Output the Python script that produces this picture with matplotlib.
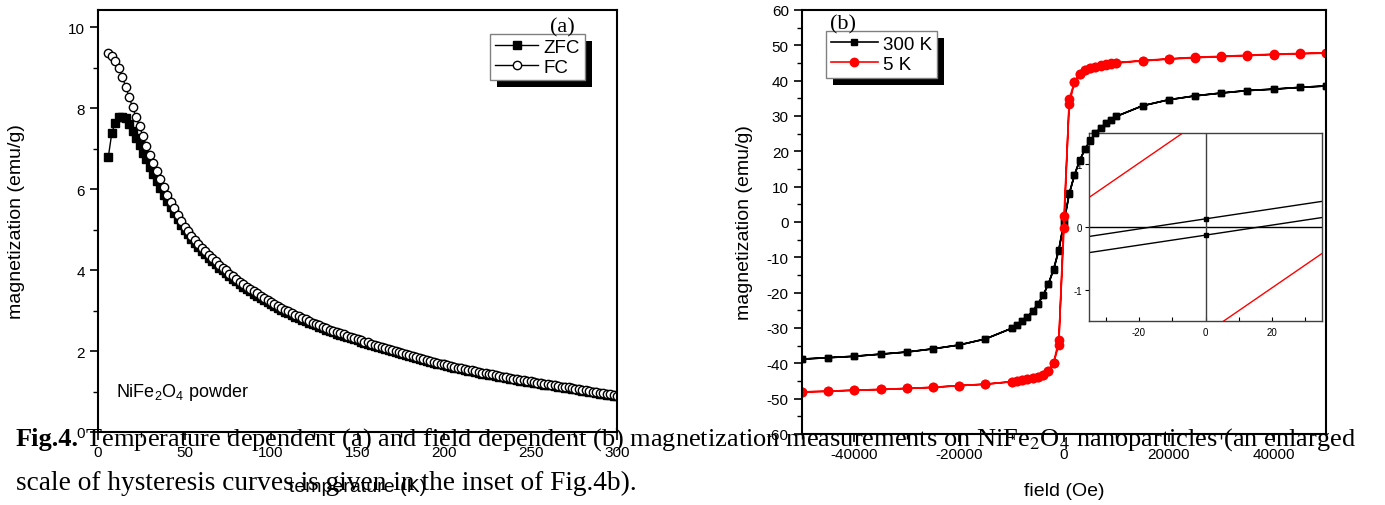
import matplotlib
matplotlib.use("Agg")
import matplotlib.pyplot as plt
from matplotlib.patches import Rectangle
from matplotlib.ticker import MultipleLocator, FixedLocator
import numpy as np

plt.rcParams['font.family'] = ['Liberation Sans', 'DejaVu Sans']
plt.rcParams['mathtext.fontset'] = 'custom'
plt.rcParams['mathtext.rm'] = 'Liberation Sans'
plt.rcParams['mathtext.bf'] = 'Liberation Sans:bold'
plt.rcParams['axes.unicode_minus'] = False

# ---- (a) ZFC / FC, temperature in K, magnetization in emu/g
temperature = [6, 8, 10, 12, 14, 16, 18, 20, 22, 24, 26, 28, 30, 32, 34, 36, 38, 40, 42, 44, 46, 48, 50,
               52, 54, 56, 58, 60, 62, 64, 66, 68, 70, 72, 74, 76, 78, 80, 82, 84, 86, 88, 90,
               92, 94, 96, 98, 100, 102, 104, 106, 108, 110, 112, 114, 116, 118, 120,
               122, 124, 126, 128, 130, 132, 134, 136, 138, 140, 142, 144, 146, 148, 150,
               152, 154, 156, 158, 160, 162, 164, 166, 168, 170, 172, 174, 176, 178, 180,
               182, 184, 186, 188, 190, 192, 194, 196, 198, 200, 202, 204, 206, 208, 210,
               212, 214, 216, 218, 220, 222, 224, 226, 228, 230, 232, 234, 236, 238, 240,
               242, 244, 246, 248, 250, 252, 254, 256, 258, 260, 262, 264, 266, 268, 270,
               272, 274, 276, 278, 280, 282, 284, 286, 288, 290, 292, 294, 296, 298, 300]

zfc = [6.80, 7.39, 7.64, 7.77, 7.79, 7.75, 7.60, 7.44, 7.27, 7.09, 6.90, 6.73, 6.55, 6.37, 6.20,
       6.03, 5.86, 5.70, 5.55, 5.40, 5.26, 5.12, 4.99,
       4.88, 4.77, 4.67, 4.57, 4.48, 4.39, 4.30, 4.22, 4.14, 4.06,
       3.99, 3.92, 3.85, 3.78, 3.72, 3.65, 3.59, 3.53, 3.47, 3.41,
       3.36, 3.31, 3.26, 3.21, 3.16, 3.11, 3.06, 3.02, 2.97, 2.93,
       2.89, 2.85, 2.81, 2.77, 2.74, 2.70, 2.66, 2.63, 2.59, 2.56,
       2.53, 2.50, 2.46, 2.43, 2.40, 2.37, 2.35, 2.32, 2.29, 2.26,
       2.23, 2.20, 2.18, 2.15, 2.12, 2.10, 2.07, 2.05, 2.02, 2.00,
       1.97, 1.95, 1.92, 1.90, 1.87, 1.85, 1.83, 1.80, 1.78, 1.76,
       1.74, 1.71, 1.69, 1.67, 1.65, 1.63, 1.61, 1.59, 1.57, 1.55,
       1.53, 1.51, 1.50, 1.48, 1.46, 1.44, 1.43, 1.41, 1.40, 1.38,
       1.36, 1.35, 1.33, 1.32, 1.30, 1.29, 1.27, 1.26, 1.24, 1.23,
       1.22, 1.20, 1.19, 1.17, 1.16, 1.15, 1.13, 1.12, 1.10, 1.09,
       1.08, 1.06, 1.05, 1.03, 1.02, 1.01, 0.99, 0.98, 0.96, 0.95,
       0.94, 0.92, 0.91, 0.89, 0.88]

fc = [9.36, 9.28, 9.17, 8.99, 8.77, 8.53, 8.27, 8.02, 7.78, 7.55, 7.30, 7.07, 6.85, 6.64, 6.44,
      6.24, 6.05, 5.86, 5.69, 5.52, 5.36, 5.21, 5.07,
      4.96, 4.85, 4.74, 4.64, 4.55, 4.46, 4.37, 4.29, 4.21, 4.13,
      4.06, 3.99, 3.91, 3.84, 3.78, 3.71, 3.65, 3.59, 3.53, 3.47,
      3.42, 3.36, 3.31, 3.26, 3.21, 3.16, 3.11, 3.07, 3.02, 2.98,
      2.94, 2.90, 2.86, 2.82, 2.78, 2.74, 2.70, 2.67, 2.63, 2.60,
      2.57, 2.53, 2.50, 2.47, 2.44, 2.41, 2.38, 2.35, 2.32, 2.29,
      2.26, 2.23, 2.21, 2.18, 2.15, 2.12, 2.10, 2.07, 2.05, 2.02,
      2.00, 1.97, 1.95, 1.92, 1.90, 1.88, 1.85, 1.83, 1.80, 1.78,
      1.76, 1.74, 1.71, 1.69, 1.67, 1.65, 1.63, 1.61, 1.59, 1.57,
      1.55, 1.53, 1.52, 1.50, 1.48, 1.46, 1.45, 1.43, 1.42, 1.40,
      1.38, 1.37, 1.35, 1.34, 1.32, 1.31, 1.29, 1.28, 1.26, 1.25,
      1.24, 1.22, 1.21, 1.19, 1.18, 1.17, 1.15, 1.14, 1.12, 1.11,
      1.10, 1.08, 1.07, 1.05, 1.04, 1.03, 1.01, 1.00, 0.98, 0.97,
      0.96, 0.94, 0.93, 0.91, 0.90]

# ---- (b) hysteresis loops, field in Oe
field_down = [50000, 45000, 40000, 35000, 30000, 25000, 20000, 15000, 10000, 9000, 8000, 7000,
              6000, 5000, 4000, 3000, 2000, 1000, 0, -1000, -2000, -3000, -4000, -5000, -6000,
              -7000, -8000, -9000, -10000, -15000, -20000, -25000, -30000, -35000, -40000,
              -45000, -50000]
field_up = [-50000, -45000, -40000, -35000, -30000, -25000, -20000, -15000, -10000, -9000,
            -8000, -7000, -6000, -5000, -4000, -3000, -2000, -1000, 0, 1000, 2000, 3000, 4000,
            5000, 6000, 7000, 8000, 9000, 10000, 15000, 20000, 25000, 30000, 35000, 40000,
            45000, 50000]

m300_down = [38.5, 38.1, 37.6, 37.2, 36.5, 35.7, 34.6, 32.9, 29.9, 29.0, 27.9, 26.6, 25.2, 23.1,
             20.6, 17.5, 13.4, 8.1, 0.13, -7.9, -13.4, -17.6, -20.8, -23.2, -25.3, -26.8, -28.1,
             -29.2, -30.1, -33.1, -34.8, -35.9, -36.8, -37.4, -38.0, -38.4, -38.8]
m300_up = [-38.8, -38.4, -38.0, -37.4, -36.8, -35.9, -34.8, -33.1, -30.1, -29.2, -28.1, -26.8,
           -25.3, -23.2, -20.8, -17.6, -13.6, -8.1, -0.13, 7.9, 13.2, 17.4, 20.6, 23.0, 25.2,
           26.6, 27.9, 29.0, 29.9, 32.9, 34.6, 35.7, 36.5, 37.2, 37.6, 38.1, 38.5]

m5_down = [47.8, 47.6, 47.4, 47.1, 46.8, 46.5, 46.1, 45.6, 45.0, 44.8, 44.5, 44.2, 43.9, 43.5,
           42.9, 41.9, 39.5, 33.5, 1.75, -34.8, -40.0, -42.3, -43.2, -43.8, -44.2, -44.5, -44.7,
           -45.0, -45.2, -45.9, -46.3, -46.8, -47.1, -47.4, -47.6, -47.9, -48.1]
m5_up = [-48.1, -47.9, -47.6, -47.4, -47.1, -46.8, -46.3, -45.9, -45.2, -45.0, -44.7, -44.5,
         -44.2, -43.8, -43.2, -42.3, -40.0, -33.5, -1.7, 34.8, 39.6, 42.0, 43.0, 43.6, 44.0,
         44.3, 44.6, 44.9, 45.1, 45.7, 46.2, 46.6, 46.9, 47.2, 47.5, 47.7, 47.9]

caption_bold = "Fig.4."
caption1 = (r" Temperature dependent (a) and field dependent (b) magnetization "
            r"measurements on NiFe$_2$O$_4$ nanoparticles (an enlarged")
caption2 = "scale of hysteresis curves is given in the inset of Fig.4b)."

W, H = 1385, 506
fig = plt.figure(figsize=(W / 100, H / 100), dpi=100)


def px_rect(x0, y0, x1, y1):
    return [x0 / W, 1 - y1 / H, (x1 - x0) / W, (y1 - y0) / H]


def style_axes(ax):
    for s in ax.spines.values():
        s.set_linewidth(1.5)
    ax.tick_params(which='both', direction='out', top=False, right=False, labelsize=11)
    ax.tick_params(which='major', length=6, width=1.2, pad=3.5)
    ax.tick_params(which='minor', length=3.5, width=1.0)


def add_shadow(ax, leg, off=7):
    fig.canvas.draw()
    bb = leg.get_frame().get_window_extent()
    inv = ax.transAxes.inverted()
    (x0, y0) = inv.transform((bb.x0 + off, bb.y0 - off))
    (x1, y1) = inv.transform((bb.x1 + off, bb.y1 - off))
    ax.add_patch(Rectangle((x0, y0), x1 - x0, y1 - y0, transform=ax.transAxes,
                           facecolor='black', edgecolor='none', clip_on=False,
                           zorder=leg.get_zorder() - 0.1))


# ---------------- panel (a)
ax1 = fig.add_axes(px_rect(98, 11, 617, 433))
ax1.plot(temperature, zfc, '-s', color='black', lw=1, ms=5.5, label='ZFC')
ax1.plot(temperature, fc, '-o', color='black', lw=1, ms=6, mfc='white', mec='black',
         mew=1.0, label='FC')
ax1.set_xlim(0, 300)
ax1.set_ylim(0, 10.42)
ax1.xaxis.set_major_locator(MultipleLocator(50))
ax1.xaxis.set_minor_locator(MultipleLocator(25))
ax1.yaxis.set_major_locator(MultipleLocator(2))
ax1.yaxis.set_minor_locator(MultipleLocator(1))
style_axes(ax1)
ax1.set_xlabel('temperature (K)', fontsize=14)
ax1.set_ylabel('magnetization (emu/g)', fontsize=14)
ax1.xaxis.set_label_coords(0.5, -0.108)
ax1.yaxis.set_label_coords(-0.141, 0.5)
ax1.text(0.034, 0.085, r'NiFe$_2$O$_4$ powder', transform=ax1.transAxes, fontsize=13,
         va='baseline')
leg1 = ax1.legend(loc='upper right', bbox_to_anchor=(0.938, 0.943), borderaxespad=0,
                  fontsize=13.5, fancybox=False, framealpha=1, edgecolor='#808080',
                  handlelength=2.3, handletextpad=0.3, borderpad=0.25, labelspacing=0.15)
leg1.get_frame().set_linewidth(1.0)

# ---------------- panel (b), inset drawn underneath the main curves
axin = fig.add_axes(px_rect(1089, 134, 1322, 322))
axin.set_zorder(1)
axin.axhline(0, color='black', lw=1)
axin.axvline(0, color='#404040', lw=1)
axin.plot(field_down, m300_down, '-s', color='black', lw=1, ms=3)
axin.plot(field_up, m300_up, '-s', color='black', lw=1, ms=3)
axin.plot(field_down, m5_down, '-', color='red', lw=1)
axin.plot(field_up, m5_up, '-', color='red', lw=1)
axin.set_xlim(-35, 35)
axin.set_ylim(-1.5, 1.5)
axin.xaxis.set_major_locator(FixedLocator([-20, 0, 20]))
axin.xaxis.set_minor_locator(FixedLocator([-30, -10, 10, 30]))
axin.yaxis.set_major_locator(FixedLocator([-1, 0, 1]))
for s in axin.spines.values():
    s.set_linewidth(1.0)
    s.set_color('#404040')
axin.tick_params(axis='x', which='both', direction='in', length=3, width=0.8, labelsize=7,
                 pad=4, top=False)
axin.tick_params(axis='y', which='both', direction='out', length=3, width=0.8, labelsize=7,
                 pad=2, right=False)

ax2 = fig.add_axes(px_rect(802, 11, 1326, 435))
ax2.set_zorder(2)
ax2.patch.set_alpha(0)
ax2.plot(np.concatenate([field_down, field_up]), np.concatenate([m300_down, m300_up]), '-s',
         color='black', lw=1.2, ms=5, label='300 K')
ax2.plot(np.concatenate([field_down, field_up]), np.concatenate([m5_down, m5_up]), '-o',
         color='red', lw=1.2, ms=6, label='5 K')
ax2.set_xlim(-50000, 50000)
ax2.set_ylim(-60, 60)
ax2.xaxis.set_major_locator(MultipleLocator(20000))
ax2.xaxis.set_minor_locator(MultipleLocator(10000))
ax2.yaxis.set_major_locator(MultipleLocator(10))
ax2.yaxis.set_minor_locator(MultipleLocator(5))
style_axes(ax2)
ax2.set_xlabel('field (Oe)', fontsize=14)
ax2.set_ylabel('magnetization (emu/g)', fontsize=14)
ax2.xaxis.set_label_coords(0.5, -0.113)
ax2.yaxis.set_label_coords(-0.0935, 0.5)
leg2 = ax2.legend(loc='upper left', bbox_to_anchor=(0.046, 0.950), borderaxespad=0,
                  fontsize=13.5, fancybox=False, framealpha=1, edgecolor='#808080',
                  handlelength=2.5, handletextpad=0.3, borderpad=0.25, labelspacing=0.15)
leg2.get_frame().set_linewidth(1.0)

add_shadow(ax1, leg1)
add_shadow(ax2, leg2)

# panel letters
fig.text(562 / W, 1 - 28 / H, '(a)', family='Liberation Serif', fontsize=16,
         ha='center', va='center')
fig.text(843 / W, 1 - 25 / H, '(b)', family='Liberation Serif', fontsize=16,
         ha='center', va='center')

# caption typed over the bottom of the figure
t_bold = fig.text(16 / W, 1 - 446 / H, caption_bold, family='Liberation Serif',
                  weight='bold', fontsize=19, va='baseline', ha='left')
fig.canvas.draw()
bold_end = t_bold.get_window_extent().x1
fig.text(bold_end / W, 1 - 446 / H, caption1, family='Liberation Serif',
         math_fontfamily='stix', fontsize=19, va='baseline', ha='left')
fig.text(16 / W, 1 - 490 / H, caption2, family='Liberation Serif', math_fontfamily='stix',
         fontsize=19.7, va='baseline', ha='left')

fig.savefig('out.png', dpi=100)
